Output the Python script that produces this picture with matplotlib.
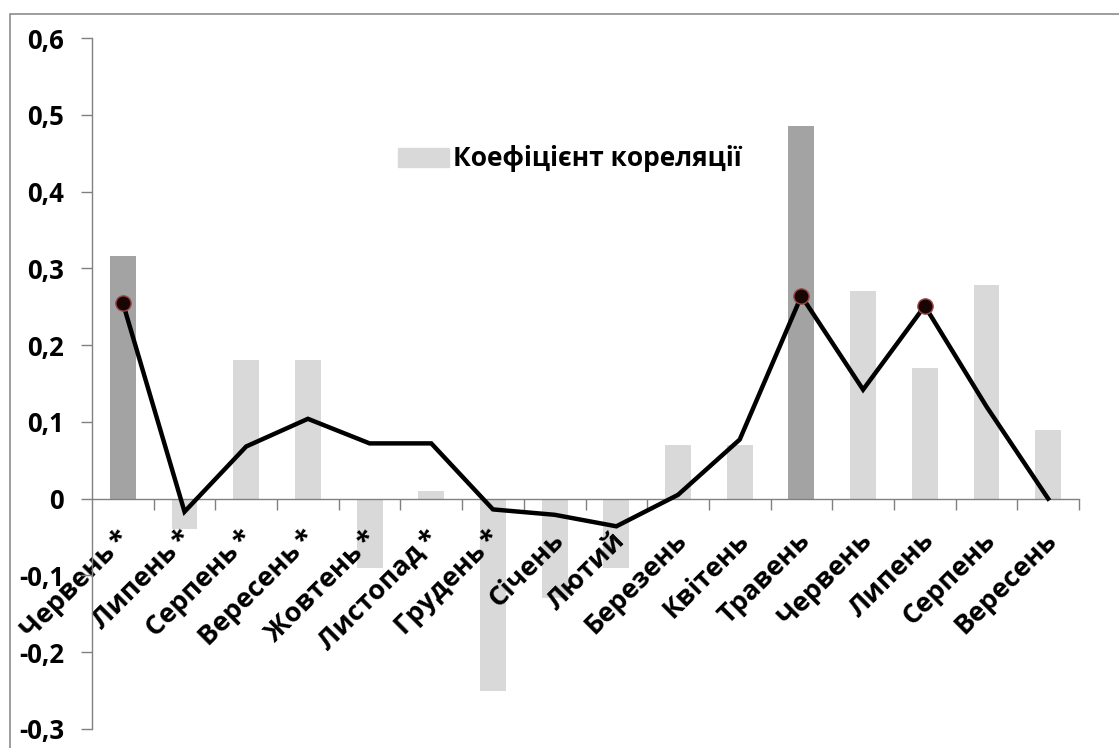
import matplotlib
matplotlib.use("Agg")
import matplotlib.pyplot as plt
from matplotlib.patches import Patch, Rectangle
from matplotlib.ticker import FuncFormatter
from matplotlib.transforms import ScaledTranslation
import numpy as np

plt.rcParams['font.family'] = ['Open Sans', 'DejaVu Sans']

categories = ["Червень\u2009*", "Липень\u2009*", "Серпень\u2009*", "Вересень\u2009*", "Жовтень\u2009*",
              "Листопад\u2009*", "Грудень\u2009*", "Січень", "Лютий", "Березень", "Квітень", "Травень",
              "Червень", "Липень", "Серпень", "Вересень"]
bar_values = [0.316, -0.04, 0.18, 0.18, -0.09, 0.01, -0.25, -0.13, -0.09,
              0.07, 0.07, 0.486, 0.27, 0.17, 0.278, 0.09]
line_values = [0.255, -0.017, 0.068, 0.104, 0.072, 0.072, -0.014, -0.021, -0.036,
               0.005, 0.077, 0.264, 0.142, 0.251, 0.12, 0.0]
highlight = [0, 11, 13]
dark_bars = [0, 11]
legend_label = "Коефіцієнт кореляції"

dark, light = "#a3a3a3", "#d9d9d9"

fig = plt.figure(figsize=(11.19, 7.48), dpi=100)
ax = fig.add_axes([92/1119, 1-729/748, (1079-92)/1119, (729-38)/748])

x = np.arange(len(categories))
colors = [dark if i in dark_bars else light for i in range(len(categories))]
ax.bar(x, bar_values, width=0.42, color=colors, zorder=1)
ax.plot(x, line_values, color="black", lw=3.2, zorder=3, solid_joinstyle='miter')
ax.plot(x[highlight], np.array(line_values)[highlight], 'o', ms=11,
        mfc="#1a0505", mec="#9c4a4a", mew=1.0, zorder=4, ls='none')

ax.set_xlim(-0.5, len(categories) - 0.5)
ax.set_ylim(-0.3, 0.6)
ax.set_yticks(np.arange(-0.3, 0.61, 0.1))
ax.yaxis.set_major_formatter(FuncFormatter(
    lambda v, p: "0" if abs(v) < 1e-9 else f"{v:.1f}".replace(".", ",")))

for s in ["top", "right"]:
    ax.spines[s].set_visible(False)
ax.spines["bottom"].set_position(('data', 0))
for s in ["left", "bottom"]:
    ax.spines[s].set_color("#808080")
    ax.spines[s].set_linewidth(1.0)
ax.spines["bottom"].set_zorder(2)

ax.tick_params(axis='y', direction='out', length=8, width=1, color="#808080",
               labelsize=18.5, pad=12)
for t in ax.get_yticklabels():
    t.set_fontweight('bold')

ax.set_xticks(x)
ax.set_xticks(np.arange(0.5, len(categories) - 0.4, 1.0), minor=True)
ax.set_xticklabels(categories, rotation=45, ha='right', va='top',
                   rotation_mode='anchor', fontsize=19.5, fontweight='bold')
ax.tick_params(axis='x', which='major', length=0, pad=12)
ax.tick_params(axis='x', which='minor', direction='out', length=8, width=1, color="#808080")
for t, lab in zip(ax.get_xticklabels(), categories):
    dx, dy = (-6, -10) if "*" in lab else (-4, -12)
    t.set_transform(t.get_transform() + ScaledTranslation(dx/100, dy/100, fig.dpi_scale_trans))

ax.legend(handles=[Patch(color=light, label=legend_label)], loc='center left',
          bbox_to_anchor=(398/1119, 1-159/748), bbox_transform=fig.transFigure,
          frameon=False, prop={'size': 19, 'weight': 'bold'},
          handlelength=1.95, handleheight=0.7, handletextpad=0.15, borderpad=0, borderaxespad=0)

fig.patches.append(Rectangle((10/1119, -0.05), 1.2, 1 - 14/748 + 0.05, transform=fig.transFigure,
                             fill=False, edgecolor="#8c8c8c", lw=1.2))

fig.savefig("out.png", dpi=100)
